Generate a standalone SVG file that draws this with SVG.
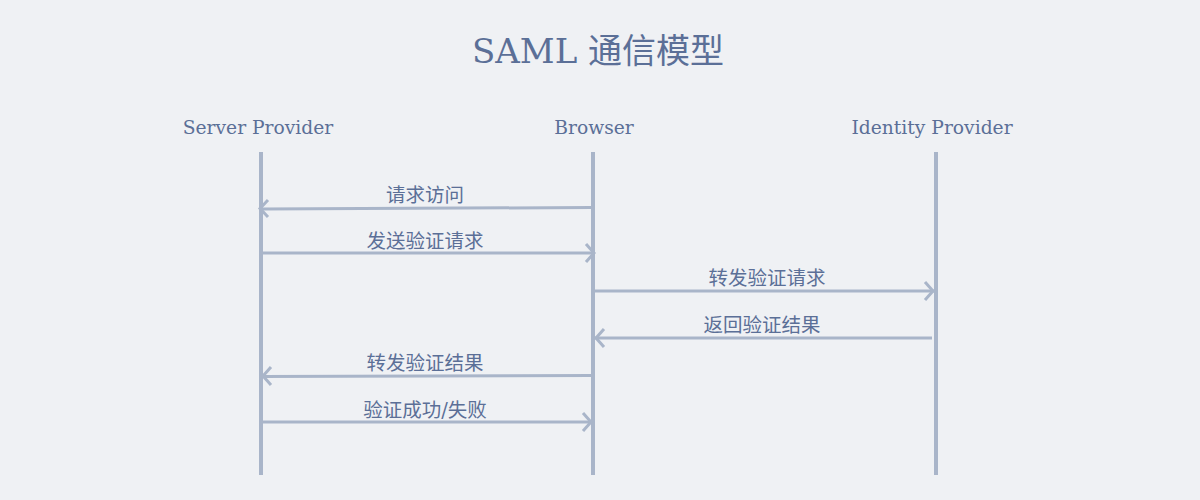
<svg xmlns="http://www.w3.org/2000/svg" width="1200" height="500" viewBox="0 0 1200 500">
<style>
.t{font-family:"DejaVu Serif","Noto Sans CJK SC",serif;fill:#5b6f97}
.title{font-size:34px}
.h{font-size:18.7px}
.l{font-size:19.5px}
.life{stroke:#a9b5c9;stroke-width:4}
.msg{stroke:#a9b5c9;stroke-width:3;fill:none}
.head{stroke:#a9b5c9;stroke-width:3;fill:none;stroke-linecap:butt}
</style>
<rect width="1200" height="500" fill="#eff1f4"/>
<text class="t title" x="598" y="63" text-anchor="middle">SAML 通信模型</text>
<g id="sp"><text class="t h" x="258" y="134" text-anchor="middle">Server Provider</text><line class="life" x1="261" y1="152" x2="261" y2="475"/></g>
<g id="browser"><text class="t h" x="594" y="134" text-anchor="middle">Browser</text><line class="life" x1="593" y1="152" x2="593" y2="475"/></g>
<g id="idp"><text class="t h" x="932" y="134" text-anchor="middle">Identity Provider</text><line class="life" x1="936" y1="152" x2="936" y2="475"/></g>
<g id="connectors">
<g id="m1"><line class="msg" x1="591" y1="207.5" x2="263" y2="209"/><polyline class="head" points="268,200 260,208.5 268,217"/><text class="t l" x="425" y="202" text-anchor="middle">请求访问</text></g>
<g id="m2"><line class="msg" x1="263" y1="253" x2="591" y2="253"/><polyline class="head" points="586,244 594,253 586,262"/><text class="t l" x="425" y="248" text-anchor="middle">发送验证请求</text></g>
<g id="m3"><line class="msg" x1="595" y1="291" x2="934" y2="291"/><polyline class="head" points="925,282 933,291 925,300"/><text class="t l" x="767" y="285" text-anchor="middle">转发验证请求</text></g>
<g id="m4"><line class="msg" x1="932" y1="338" x2="595" y2="338"/><polyline class="head" points="604,329 596,338 604,347"/><text class="t l" x="762" y="332" text-anchor="middle">返回验证结果</text></g>
<g id="m5"><line class="msg" x1="591" y1="375.5" x2="263" y2="376.5"/><polyline class="head" points="271,367 263,376 271,385"/><text class="t l" x="425" y="370" text-anchor="middle">转发验证结果</text></g>
<g id="m6"><line class="msg" x1="263" y1="422" x2="591" y2="422"/><polyline class="head" points="583,413 591,422 583,431"/><text class="t l" x="425" y="417" text-anchor="middle">验证成功/失败</text></g>
</g>
</svg>
